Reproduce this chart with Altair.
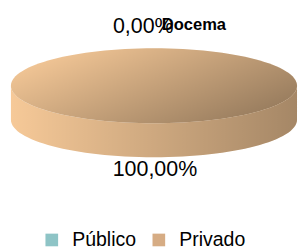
import math
import altair as alt
import pandas as pd

# ---- data ----
categories = ["Público", "Privado"]
values = [0.0, 100.0]
label_texts = ["0,00%", "100,00%"]
title_text = "Docema"

# ---- colours ----
base_colors = ["#A8DCDE", "#F6C998"]     # light tone of each slice (shaded below)
legend_colors = ["#8EC4C6", "#D6AC84"]   # legend swatches

# ---- pie geometry (pixels, chart coordinates) ----
CX, CY = 150.0, 76.5
RX, RY = 147.0, 38.5
DEPTH = 35.0
E = RY / RX
D = DEPTH / RX
SIZE = (2 * RX) ** 2
START = -90.0


def pt(a, off=0.0):
    r = math.radians(a)
    return f"{math.cos(r):.5f} {E * math.sin(r) + off:.5f}"


def top_path(a0, a1):
    if a1 - a0 >= 360 - 1e-9:
        return f"M -1 0 A 1 {E:.5f} 0 1 1 1 0 A 1 {E:.5f} 0 1 1 -1 0 Z"
    large = 1 if a1 - a0 > 180 else 0
    return f"M 0 0 L {pt(a0)} A 1 {E:.5f} 0 {large} 1 {pt(a1)} Z"


def wall_path(a0, a1):
    parts = []
    for k in (-360, 0, 360):
        lo, hi = max(a0, k), min(a1, k + 180)
        if hi > lo:
            parts.append(
                f"M {pt(lo)} A 1 {E:.5f} 0 0 1 {pt(hi)} "
                f"L {pt(hi, D)} A 1 {E:.5f} 0 0 0 {pt(lo, D)} Z"
            )
    return " ".join(parts) if parts else "M 0 0 Z"


total = sum(values)
slice_rows, label_rows = [], []
a = START
for cat, v, lab in zip(categories, values, label_texts):
    a1 = a + 360.0 * v / total
    mid = math.radians((a + a1) / 2)
    front = math.sin(mid) > 1e-6
    P = 0.33
    label_rows.append({
        "category": cat, "text": lab,
        "lx": math.cos(mid) * (1 + P),
        "ly": math.sin(mid) * (1 + P) + (DEPTH / RY if front else 0.0),
        "front": front,
    })
    if v > 0:
        slice_rows.append({"category": cat, "x": 0.0, "y": 0.0,
                           "wall": wall_path(a, a1), "top": top_path(a, a1)})
    a = a1

slices = pd.DataFrame(slice_rows)
labels = pd.DataFrame(label_rows)
legend_df = pd.DataFrame({"category": categories})

xs = alt.Scale(domain=[-1, 1], range=[CX - RX, CX + RX], zero=False, nice=False)
ys = alt.Scale(domain=[-1, 1], range=[CY - RY, CY + RY], zero=False, nice=False)

fill_scale = alt.Scale(domain=categories, range=base_colors)


def shade(y1, y2, alpha):
    return alt.LinearGradient(
        gradient="linear", x1=0, y1=y1, x2=1, y2=y2,
        stops=[alt.GradientStop(offset=0, color="rgba(0,0,0,0)"),
               alt.GradientStop(offset=1, color=f"rgba(0,0,0,{alpha})")])


base = alt.Chart(slices)
pos = dict(x=alt.X("x:Q", scale=xs, axis=None), y=alt.Y("y:Q", scale=ys, axis=None))

wall = base.mark_point(filled=True, opacity=1, strokeWidth=0, size=SIZE).encode(
    shape=alt.Shape("wall:N", scale=None),
    fill=alt.Fill("category:N", scale=fill_scale, legend=None), **pos)
wall_sh = base.mark_point(filled=True, opacity=1, strokeWidth=0, size=SIZE,
                          fill=shade(0, 0, 0.33)).encode(
    shape=alt.Shape("wall:N", scale=None), **pos)
top = base.mark_point(filled=True, opacity=1, strokeWidth=0, size=SIZE).encode(
    shape=alt.Shape("top:N", scale=None),
    fill=alt.Fill("category:N", scale=fill_scale, legend=None), **pos)
top_sh = base.mark_point(filled=True, opacity=1, strokeWidth=0, size=SIZE,
                         fill=shade(0.2, 0.8, 0.4)).encode(
    shape=alt.Shape("top:N", scale=None), **pos)

lab_base = alt.Chart(labels)
lpos = dict(x=alt.X("lx:Q", scale=xs, axis=None), y=alt.Y("ly:Q", scale=ys, axis=None),
            text="text:N")
lab_front = lab_base.transform_filter("datum.front").mark_text(
    font="Liberation Sans", fontSize=22, color="black", align="center",
    baseline="middle", dx=1).encode(**lpos)
lab_back = lab_base.transform_filter("!datum.front").mark_text(
    font="Liberation Sans", fontSize=22, color="black", align="center",
    baseline="middle", dx=-11, dy=-10).encode(**lpos)

title = alt.Chart(alt.Data(values=[{"t": title_text}])).mark_text(
    font="Liberation Sans", fontWeight="bold", fontSize=17, color="black",
    align="center", baseline="alphabetic").encode(
    text="t:N", x=alt.value(191), y=alt.value(19))

legend_layer = alt.Chart(legend_df).mark_square(opacity=1, size=169).encode(
    x=alt.value(-60), y=alt.value(-60),
    color=alt.Color("category:N", scale=alt.Scale(domain=categories, range=legend_colors),
                    legend=alt.Legend(title=None, orient="none", legendX=35, legendY=225,
                                      direction="horizontal", symbolType="square",
                                      symbolSize=169, symbolStrokeWidth=0,
                                      labelFont="Liberation Sans", labelFontSize=20,
                                      labelColor="black", labelOffset=11,
                                      columnPadding=13, padding=0)))

chart = alt.layer(wall, wall_sh, top, top_sh, lab_front, lab_back, title,
                  legend_layer).resolve_scale(color="independent", fill="independent").properties(
    width=298, height=244, autosize=alt.AutoSizeParams(type="none"), padding=0
).configure_view(strokeWidth=0)

chart.save("out.html", embed_options={"renderer": "svg", "actions": False})
